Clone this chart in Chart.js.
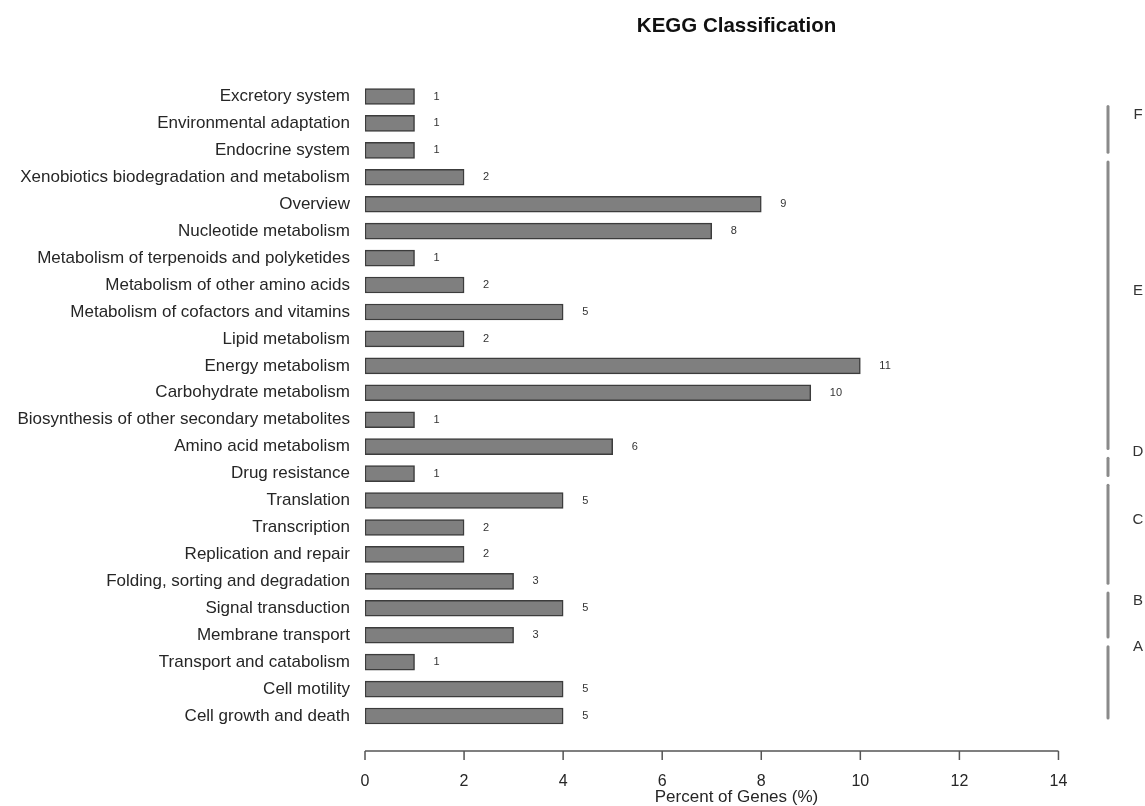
<!DOCTYPE html>
<html>
<head>
<meta charset="utf-8">
<title>KEGG Classification</title>
<script src="https://cdn.jsdelivr.net/npm/chart.js@4/dist/chart.umd.min.js"></script>
<style>
  html, body { margin: 0; padding: 0; background: #ffffff; }
  #chart { display: block; }
</style>
</head>
<body>
<canvas id="chart" width="1145" height="806"></canvas>
<script>
// Pathway categories, listed top to bottom
const categories = [
  'Excretory system',
  'Environmental adaptation',
  'Endocrine system',
  'Xenobiotics biodegradation and metabolism',
  'Overview',
  'Nucleotide metabolism',
  'Metabolism of terpenoids and polyketides',
  'Metabolism of other amino acids',
  'Metabolism of cofactors and vitamins',
  'Lipid metabolism',
  'Energy metabolism',
  'Carbohydrate metabolism',
  'Biosynthesis of other secondary metabolites',
  'Amino acid metabolism',
  'Drug resistance',
  'Translation',
  'Transcription',
  'Replication and repair',
  'Folding, sorting and degradation',
  'Signal transduction',
  'Membrane transport',
  'Transport and catabolism',
  'Cell motility',
  'Cell growth and death'
];

// Share of annotated genes in each category (%)
const percentOfGenes = [1, 1, 1, 2, 8, 7, 1, 2, 4, 2, 10, 9, 1, 5, 1, 4, 2, 2, 3, 4, 3, 1, 4, 4];

// Number of genes in each category
const geneCounts = [1, 1, 1, 2, 9, 8, 1, 2, 5, 2, 11, 10, 1, 6, 1, 5, 2, 2, 3, 5, 3, 1, 5, 5];

// KEGG top-level groups, top to bottom, with how many categories each holds
const groupLetters = ['F', 'E', 'D', 'C', 'B', 'A'];
const groupSizes = [3, 11, 1, 4, 2, 3];

// Tick values on the percent axis
const xTicks = [0, 2, 4, 6, 8, 10, 12, 14];

Chart.defaults.font.family = "'Liberation Sans', Arial, Helvetica, sans-serif";
Chart.defaults.color = '#262626';

// Gene count printed to the right of each bar
const countLabels = {
  id: 'countLabels',
  afterDatasetsDraw(chart, args, opts) {
    const ctx = chart.ctx;
    const meta = chart.getDatasetMeta(0);
    ctx.save();
    ctx.font = "11px 'Liberation Sans', Arial, sans-serif";
    ctx.fillStyle = '#333333';
    ctx.textAlign = 'left';
    ctx.textBaseline = 'middle';
    meta.data.forEach((bar, i) => {
      ctx.fillText(String(geneCounts[i]), bar.x + opts.gap, bar.y);
    });
    ctx.restore();
  }
};

// Detached x axis line with downward tick marks, spanning the tick range
const detachedAxis = {
  id: 'detachedAxis',
  afterDraw(chart, args, opts) {
    const ctx = chart.ctx;
    const xs = chart.scales.x;
    const y0 = chart.chartArea.bottom + opts.drop;
    ctx.save();
    ctx.strokeStyle = '#555555';
    ctx.lineWidth = 1.5;
    ctx.beginPath();
    ctx.moveTo(xs.getPixelForValue(xTicks[0]), y0);
    ctx.lineTo(xs.getPixelForValue(xTicks[xTicks.length - 1]), y0);
    xTicks.forEach(v => {
      const px = xs.getPixelForValue(v);
      ctx.moveTo(px, y0);
      ctx.lineTo(px, y0 + opts.tickLength);
    });
    ctx.stroke();
    ctx.restore();
  }
};

// Vertical group brackets with their letters on the right side
const groupBrackets = {
  id: 'groupBrackets',
  afterDraw(chart, args, opts) {
    const ctx = chart.ctx;
    const ys = chart.scales.y;
    const step = ys.getPixelForValue(1) - ys.getPixelForValue(0);
    const lineX = chart.chartArea.right;
    ctx.save();
    let first = 0;
    groupLetters.forEach((letter, g) => {
      const last = first + groupSizes[g] - 1;
      const trim = opts.topTrim[letter] || 0;
      const top = ys.getPixelForValue(first) + (opts.startOffset + trim) * step;
      const bottom = ys.getPixelForValue(last) + opts.endOffset * step;
      ctx.strokeStyle = '#8a8a8a';
      ctx.lineWidth = 3;
      ctx.lineCap = 'round';
      ctx.beginPath();
      ctx.moveTo(lineX, top);
      ctx.lineTo(lineX, bottom);
      ctx.stroke();

      const shift = (letter in opts.letterShiftFor) ? opts.letterShiftFor[letter] : opts.letterShift;
      ctx.font = "15px 'Liberation Sans', Arial, sans-serif";
      ctx.fillStyle = '#333333';
      ctx.textAlign = 'center';
      ctx.textBaseline = 'middle';
      ctx.fillText(letter, lineX + opts.letterGap, (top + bottom) / 2 + shift * step);
      first = last + 1;
    });
    ctx.restore();
  }
};

new Chart(document.getElementById('chart'), {
  type: 'bar',
  data: {
    labels: categories,
    datasets: [{
      data: percentOfGenes,
      backgroundColor: '#7f7f7f',
      borderColor: '#3c3c3c',
      borderWidth: 1.5,
      borderSkipped: false,
      barThickness: 16
    }]
  },
  options: {
    indexAxis: 'y',
    responsive: false,
    animation: false,
    devicePixelRatio: 1,
    layout: { padding: { top: 0, left: 0, right: 37, bottom: 0 } },
    scales: {
      y: {
        type: 'category',
        offset: true,
        grid: { display: false },
        border: { display: false },
        ticks: { autoSkip: false, padding: 7, color: '#262626', font: { size: 17 } },
        afterFit(scale) { scale.width = 365; }
      },
      x: {
        type: 'linear',
        min: 0,
        max: 15,
        grid: { display: false },
        border: { display: false },
        ticks: { padding: 34, color: '#262626', font: { size: 16 } },
        afterBuildTicks(scale) { scale.ticks = xTicks.map(v => ({ value: v })); },
        afterFit(scale) { scale.height = 76.5; },
        title: {
          display: true,
          text: 'Percent of Genes (%)',
          color: '#262626',
          font: { size: 17, lineHeight: 1 },
          padding: { top: 0, bottom: 0 }
        }
      }
    },
    plugins: {
      legend: { display: false },
      tooltip: { enabled: false },
      title: {
        display: true,
        text: 'KEGG Classification',
        fullSize: false,
        color: '#111111',
        font: { size: 20.5, weight: 'bold', lineHeight: 1 },
        padding: { top: 16, bottom: 46.5 }
      },
      countLabels: { gap: 19 },
      detachedAxis: { drop: 21.5, tickLength: 9 },
      groupBrackets: {
        startOffset: -0.57,
        endOffset: 0.07,
        topTrim: { F: 0.94 },
        letterShift: -0.54,
        letterShiftFor: { A: -1.3 },
        letterGap: 30
      }
    }
  },
  plugins: [countLabels, detachedAxis, groupBrackets]
});
</script>
</body>
</html>
